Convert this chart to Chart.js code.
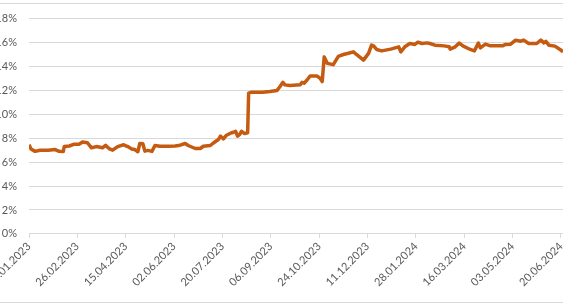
<!DOCTYPE html>
<html>
<head>
<meta charset="utf-8">
<script src="https://cdn.jsdelivr.net/npm/chart.js@4.4.0/dist/chart.umd.min.js"></script>
<style>
  html, body { margin: 0; padding: 0; background: #fff; overflow: hidden; }
  #wrap { position: relative; width: 563px; height: 304px; }
  .rule { position: absolute; left: 0; width: 563px; height: 1px; background: #d9d9d9; }
</style>
</head>
<body>
<div id="wrap">
  <canvas id="myLineChart" width="563" height="304"></canvas>
  <div class="rule" style="top:3px"></div>
  <div class="rule" style="top:302px"></div>
</div>
<script>
//data (date, value in %)
var dates = [
  "2023-01-09", "2023-01-11", "2023-01-15", "2023-01-20", "2023-01-28", "2023-02-04", "2023-02-08", "2023-02-12",
  "2023-02-13", "2023-02-18", "2023-02-23", "2023-02-28", "2023-03-03", "2023-03-08", "2023-03-12", "2023-03-17",
  "2023-03-23", "2023-03-26", "2023-03-30", "2023-04-02", "2023-04-07", "2023-04-13", "2023-04-17", "2023-04-21",
  "2023-04-24", "2023-04-27", "2023-04-29", "2023-05-02", "2023-05-04", "2023-05-07", "2023-05-11", "2023-05-14",
  "2023-05-19", "2023-05-27", "2023-06-03", "2023-06-08", "2023-06-13", "2023-06-16", "2023-06-23", "2023-06-28",
  "2023-07-01", "2023-07-08", "2023-07-11", "2023-07-16", "2023-07-18", "2023-07-21", "2023-07-24", "2023-07-28",
  "2023-07-31", "2023-08-02", "2023-08-04", "2023-08-06", "2023-08-08", "2023-08-11", "2023-08-14", "2023-08-15",
  "2023-08-18", "2023-08-29", "2023-09-05", "2023-09-12", "2023-09-15", "2023-09-18", "2023-09-20", "2023-09-25",
  "2023-10-05", "2023-10-07", "2023-10-09", "2023-10-12", "2023-10-15", "2023-10-22", "2023-10-25", "2023-10-27",
  "2023-10-29", "2023-11-01", "2023-11-07", "2023-11-12", "2023-11-17", "2023-11-22", "2023-11-27", "2023-11-30",
  "2023-12-07", "2023-12-12", "2023-12-15", "2023-12-17", "2023-12-20", "2023-12-25", "2024-01-03", "2024-01-11",
  "2024-01-13", "2024-01-17", "2024-01-22", "2024-01-27", "2024-01-30", "2024-02-03", "2024-02-08", "2024-02-11",
  "2024-02-16", "2024-02-25", "2024-03-01", "2024-03-02", "2024-03-07", "2024-03-11", "2024-03-15", "2024-03-22",
  "2024-03-26", "2024-03-30", "2024-04-01", "2024-04-06", "2024-04-11", "2024-04-23", "2024-04-26", "2024-05-01",
  "2024-05-06", "2024-05-11", "2024-05-14", "2024-05-19", "2024-05-27", "2024-05-31", "2024-06-03", "2024-06-05",
  "2024-06-08", "2024-06-14", "2024-06-19", "2024-06-22"
];
var values = [
  7.45, 7.1, 6.9, 7.0, 7.0, 7.05, 6.9, 6.88,
  7.3, 7.35, 7.5, 7.5, 7.68, 7.62, 7.2, 7.3,
  7.2, 7.4, 7.1, 7.0, 7.3, 7.45, 7.3, 7.1,
  7.05, 6.87, 7.56, 7.53, 6.92, 6.98, 6.9, 7.39,
  7.33, 7.33, 7.35, 7.42, 7.56, 7.39, 7.14, 7.14,
  7.33, 7.39, 7.6, 7.89, 8.17, 7.95, 8.25, 8.42,
  8.5, 8.58, 8.17, 8.3, 8.58, 8.39, 8.45, 11.77,
  11.85, 11.85, 11.9, 11.98, 12.3, 12.67, 12.46, 12.4,
  12.46, 12.67, 12.6, 12.87, 13.2, 13.2, 13.0, 12.73,
  14.8, 14.26, 14.15, 14.85, 15.0, 15.1, 15.22, 15.0,
  14.53, 15.09, 15.78, 15.72, 15.42, 15.3, 15.45, 15.64,
  15.22, 15.64, 15.92, 15.84, 16.03, 15.92, 15.97, 15.92,
  15.78, 15.72, 15.64, 15.45, 15.64, 15.95, 15.7, 15.42,
  15.3, 15.95, 15.55, 15.86, 15.72, 15.72, 15.84, 15.86,
  16.2, 16.11, 16.2, 15.92, 15.92, 16.2, 15.97, 16.1,
  15.78, 15.7, 15.42, 15.22
];
var tickDates = [
  "2023-01-09", "2023-02-26", "2023-04-15", "2023-06-02", "2023-07-20", "2023-09-06",
  "2023-10-24", "2023-12-11", "2024-01-28", "2024-03-16", "2024-05-03", "2024-06-20"
];
var yTicks = [0, 2, 4, 6, 8, 10, 12, 14, 16, 18];

var start = Date.UTC(2023, 0, 9);
var dayMs = 86400000;

//date string -> days since first date
function dayOf(s) {
  var p = s.split("-");
  return Math.round((Date.UTC(+p[0], +p[1] - 1, +p[2]) - start) / dayMs);
}
function pad(n) {
  return (n < 10 ? "0" : "") + n;
}
//days -> dd.mm.yyyy
function fmt(d) {
  var t = new Date(start + d * dayMs);
  return pad(t.getUTCDate()) + "." + pad(t.getUTCMonth() + 1) + "." + t.getUTCFullYear();
}

var points = dates.map(function (s, i) {
  return { x: dayOf(s), y: values[i] };
});

var labelFont = { family: "Lato", size: 11 };
var ctx = document.getElementById("myLineChart");
var myChart = new Chart(ctx, {
  type: "line",
  data: {
    datasets: [
      {
        data: points,
        borderColor: "#C55A11",
        borderWidth: 3.5,
        borderJoinStyle: "round",
        pointRadius: 0,
        tension: 0,
        fill: false,
      },
    ],
  },
  options: {
    responsive: false,
    animation: false,
    devicePixelRatio: 1,
    layout: { padding: { top: 18, bottom: 13, left: 0, right: 0 } },
    plugins: { legend: { display: false }, tooltip: { enabled: false } },
    scales: {
      x: {
        type: "linear",
        min: 0,
        max: 530,
        afterBuildTicks: function (scale) {
          scale.ticks = tickDates.map(function (s) {
            return { value: dayOf(s) };
          });
        },
        afterFit: function (scale) {
          scale.paddingLeft = 0;
          scale.paddingRight = 0;
        },
        grid: { drawOnChartArea: false, drawTicks: true, tickLength: 4, color: "#d9d9d9" },
        border: { color: "#d9d9d9" },
        ticks: {
          minRotation: 45,
          maxRotation: 45,
          autoSkip: false,
          padding: 2,
          color: "#595959",
          font: labelFont,
          callback: function (v) {
            return fmt(v);
          },
        },
      },
      y: {
        min: 0,
        max: 18,
        afterBuildTicks: function (scale) {
          scale.ticks = yTicks.map(function (v) {
            return { value: v };
          });
        },
        afterFit: function (scale) {
          scale.width = 29;
        },
        grid: { color: "#d9d9d9", drawTicks: false },
        border: { display: false },
        ticks: {
          padding: 12,
          color: "#595959",
          font: labelFont,
          callback: function (v) {
            return v + "%";
          },
        },
      },
    },
  },
});
</script>
</body>
</html>
